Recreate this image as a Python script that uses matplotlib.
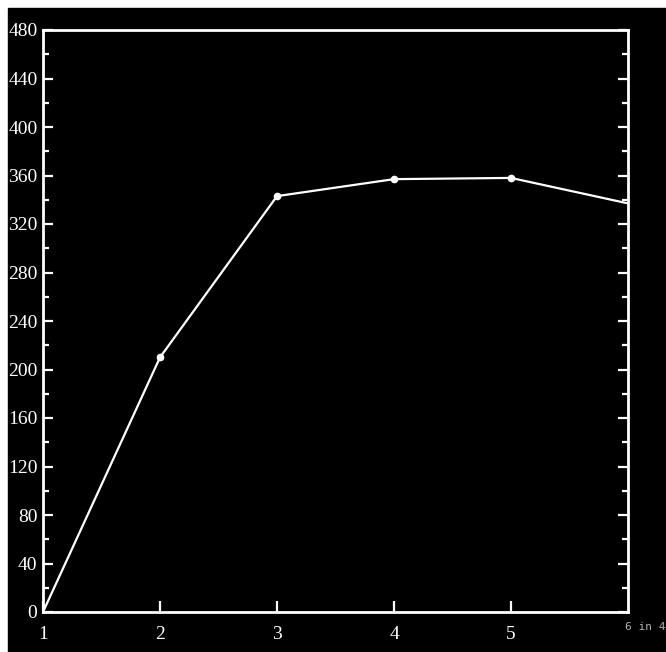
import matplotlib
matplotlib.use('Agg')
import matplotlib.pyplot as plt
from matplotlib.patches import Rectangle
from matplotlib.ticker import MultipleLocator

# --- Data ---
x_values = [1, 2, 3, 4, 5, 6]
y_values = [0, 210, 343, 357, 358, 337]
marker_x = [2, 3, 4, 5]
marker_y = [210, 343, 357, 358]
x_tick_labels = ['1', '2', '3', '4', '5']
y_ticks = list(range(0, 481, 40))
corner_note = '6 in 4'

FG = 'white'
SERIF = ['Liberation Serif', 'DejaVu Serif']


def main():
    fig = plt.figure(figsize=(6.66, 6.52), dpi=100, facecolor='white')
    # black screen area (photo has a thin white border on the left and top)
    fig.patches.append(Rectangle((8 / 666, 0), 1, 1 - 8 / 652,
                                 transform=fig.transFigure, color='black', zorder=-10))

    ax = fig.add_axes([43 / 666, 1 - 612 / 652, (628 - 43) / 666, (612 - 30) / 652])
    ax.set_facecolor('black')

    ax.plot(x_values, y_values, color=FG, lw=1.6, zorder=3)
    ax.plot(marker_x, marker_y, 'o', color=FG, ms=4.5, zorder=4)

    ax.set_xlim(1, 6)
    ax.set_ylim(0, 480)

    for side in ['left', 'right', 'top', 'bottom']:
        ax.spines[side].set_color(FG)
        ax.spines[side].set_linewidth(2)

    ax.set_xticks([1, 2, 3, 4, 5])
    ax.set_xticklabels(x_tick_labels)
    ax.set_yticks(y_ticks)
    ax.set_yticklabels([str(v) for v in y_ticks])
    ax.yaxis.set_minor_locator(MultipleLocator(20))

    ax.tick_params(axis='y', which='major', direction='in', length=7, width=1.6,
                   color=FG, labelcolor=FG, right=True, pad=4)
    ax.tick_params(axis='y', which='minor', direction='in', length=4, width=1.6,
                   color=FG, right=True)
    ax.tick_params(axis='x', which='major', direction='in', length=8, width=1.6,
                   color=FG, labelcolor=FG, top=False, pad=10)
    for lbl in ax.get_xticklabels() + ax.get_yticklabels():
        lbl.set_fontfamily(SERIF)
        lbl.set_fontsize(14)

    ax.text(5.975, -0.018, corner_note, transform=ax.get_xaxis_transform(),
            ha='left', va='top', color='#b0b0b0', fontsize=8,
            family='DejaVu Sans Mono')

    fig.savefig('out.png', dpi=100, facecolor=fig.get_facecolor())


if __name__ == "__main__":
    main()
